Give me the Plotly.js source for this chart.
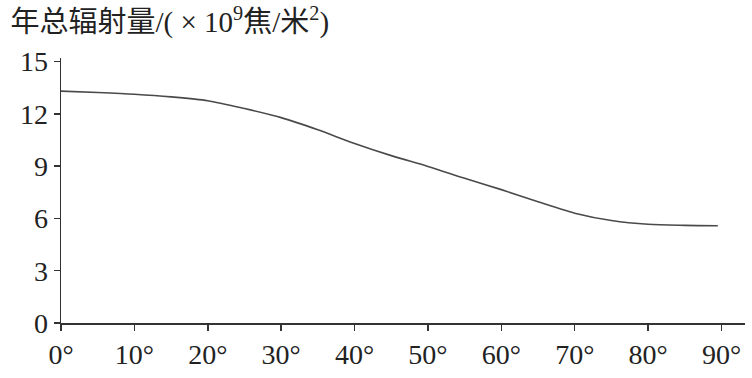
<!DOCTYPE html>
<html>
<head>
<meta charset="utf-8">
<script src="https://cdn.plot.ly/plotly-3.0.1.min.js"></script>
<style>
html,body{margin:0;padding:0;background:#fff;}
#chart{width:752px;height:378px;}
</style>
</head>
<body>
<div id="chart"></div>
<script>
// Latitude (degrees) and annual total radiation (×10^9 J/m^2)
const latitudes = [0, 5, 10, 15, 20, 25, 30, 35, 40, 45, 50, 55, 60, 65, 70, 75, 80, 85, 89.5];
const radiation = [13.3, 13.22, 13.12, 12.97, 12.75, 12.3, 11.78, 11.08, 10.3, 9.6, 8.98, 8.3, 7.65, 6.95, 6.3, 5.88, 5.66, 5.6, 5.58];
const xTickVals = [0, 10, 20, 30, 40, 50, 60, 70, 80, 90];
const xTickText = ["0°", "10°", "20°", "30°", "40°", "50°", "60°", "70°", "80°", "90°"];
const yTickVals = [0, 3, 6, 9, 12, 15];

const fontFam = 'Liberation Serif, Noto Sans CJK SC, serif';

const trace = {
  x: latitudes,
  y: radiation,
  type: 'scatter',
  mode: 'lines',
  line: {color: '#4a4a4a', width: 1.6, shape: 'spline', smoothing: 0.8},
  hoverinfo: 'skip'
};

const layout = {
  width: 752,
  height: 378,
  margin: {l: 61, r: 7, t: 58, b: 55},
  paper_bgcolor: '#fff',
  plot_bgcolor: '#fff',
  showlegend: false,
  font: {family: fontFam, color: '#222', size: 27},
  title: {
    text: '年总辐射量/( × 10<sup>9</sup>焦/米<sup>2</sup>)',
    font: {family: fontFam, size: 29, color: '#222'},
    xref: 'container', yref: 'container',
    x: 0.014, xanchor: 'left',
    y: 0.968, yanchor: 'top'
  },
  xaxis: {
    range: [0, 93.2],
    tickmode: 'array',
    tickvals: xTickVals,
    ticktext: xTickText,
    showgrid: false,
    zeroline: false,
    showline: true,
    linecolor: '#333',
    linewidth: 1.5,
    ticks: 'outside',
    ticklen: 6,
    tickwidth: 1.5,
    tickcolor: '#333',
    tickfont: {family: fontFam, size: 28, color: '#222'},
    fixedrange: true
  },
  yaxis: {
    range: [0, 15.2],
    tickmode: 'array',
    tickvals: yTickVals,
    showgrid: false,
    zeroline: false,
    showline: true,
    linecolor: '#333',
    linewidth: 1.5,
    ticks: 'outside',
    ticklen: 6,
    tickwidth: 1.5,
    tickcolor: '#333',
    tickfont: {family: fontFam, size: 28, color: '#222'},
    fixedrange: true
  }
};

Plotly.newPlot('chart', [trace], layout, {staticPlot: true, displayModeBar: false});
</script>
</body>
</html>
